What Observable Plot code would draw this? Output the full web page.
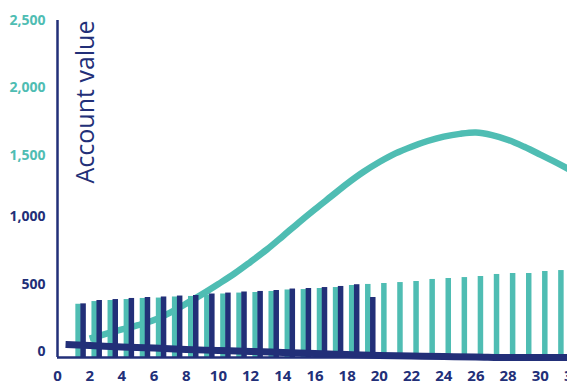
<!DOCTYPE html>
<html><head><meta charset="utf-8">
<script src="https://cdn.jsdelivr.net/npm/d3@7"></script>
<script src="https://cdn.jsdelivr.net/npm/@observablehq/plot@0.6"></script>
<style>
html,body{margin:0;padding:0;background:#fff;overflow:hidden;width:567px;height:390px}
#chart svg{max-width:none !important;display:block}
</style></head><body><div id="chart"></div>
<script>
const TEAL = "#4fbdb3";
const NAVY = "#222f78";

// Teal bars (years 1..31)
const tealYears = [1,2,3,4,5,6,7,8,9,10,11,12,13,14,15,16,17,18,19,20,21,22,23,24,25,26,27,28,29,30,31];
const tealValues = [395,415,423,430,438,441,449,453,464,471,478,482,490,501,504,512,519,534,542,549,556,564,579,586,593,601,616,623,623,638,645];

// Navy bars (years 1..19)
const navyYears = [1,2,3,4,5,6,7,8,9,10,11,12,13,14,15,16,17,18,19];
const navyValues = [398,423,430,438,445,449,456,460,471,478,486,490,497,508,512,519,527,540,445];

// Teal curve (account value)
const curveYears = [2,3,4,5,6,7,8,9,10,11,12,13,14,15,16,17,18,19,20,21,22,23,24,25,26,27,28,29,30,31,32];
const curveValues = [140,175,208,240,278,333,400,470,545,623,710,800,900,1002,1100,1195,1290,1376,1450,1514,1564,1606,1638,1659,1669,1650,1614,1563,1505,1445,1382];

// Navy declining line
const lineYears = [0.5,2,4,6,8,10,12,14,16,18,20,22,24,26,28,30,32];
const lineValues = [96,89,78,70,59,52,45,37,30,22,15,11,7,4,0,0,0];

const xTicks = [0,2,4,6,8,10,12,14,16,18,20,22,24,26,28,30,32];
const yTicksTeal = [1500,2000,2500];
const yTicksNavy = [0,500,1000];

const tealData = tealYears.map((year,i)=>({year, value: tealValues[i]}));
const navyData = navyYears.map((year,i)=>({year, value: navyValues[i]}));
const curveData = curveYears.map((year,i)=>({year, value: curveValues[i]}));
const lineData = lineYears.map((year,i)=>({year, value: lineValues[i]}));
const fmt = d3.format(",.0f");

const chart = Plot.plot({
  width: 580, height: 390,
  marginLeft: 57, marginRight: 8, marginTop: 20, marginBottom: 33,
  style: {fontFamily: "'Open Sans', sans-serif", background: "white"},
  x: {domain: [0, 32]},
  y: {domain: [0, 2500]},
  marks: [
    Plot.ruleX(tealData, {x: "year", y: "value", stroke: TEAL, strokeWidth: 5.5, dx: 4.5}),
    Plot.line(curveData, {x: "year", y: "value", stroke: TEAL, strokeWidth: 6.5, curve: "catmull-rom", strokeLinecap: "butt"}),
    Plot.ruleX(navyData, {x: "year", y: "value", stroke: NAVY, strokeWidth: 5.5, dx: 9.5}),
    Plot.line(lineData, {x: "year", y: "value", stroke: NAVY, strokeWidth: 7, curve: "monotone-x", strokeLinecap: "butt"}),
    Plot.ruleX([0], {stroke: NAVY, strokeWidth: 2.5}),
    Plot.ruleY([0], {stroke: NAVY, strokeWidth: 2.5}),
    Plot.axisX({ticks: xTicks, tickSize: 0, tickPadding: 13, fontSize: 15, fontWeight: 700, fill: NAVY, label: null}),
    Plot.axisY({ticks: yTicksNavy, tickSize: 0, tickPadding: 12, fontSize: 14, fontWeight: 700, fill: NAVY, tickFormat: fmt, dy: -6, label: null}),
    Plot.axisY({ticks: yTicksTeal, tickSize: 0, tickPadding: 12, fontSize: 14, fontWeight: 700, fill: TEAL, tickFormat: fmt, dy: 0, label: null}),
    Plot.text(["Account value"], {frameAnchor: "top-left", rotate: -90, textAnchor: "end", dx: 19, fill: NAVY, fontSize: 25, fontWeight: 400})
  ]
});
document.getElementById("chart").appendChild(chart);
</script>
</body></html>
